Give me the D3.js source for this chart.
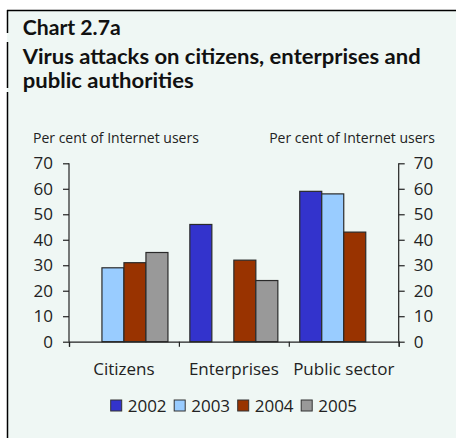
<!DOCTYPE html>
<html lang="en">
<head>
    <meta charset="UTF-8">
    <title>Chart 2.7a</title>
    <script src="https://d3js.org/d3.v7.min.js"></script>
    <style>
        body { margin: 0; background: #fff; }
        svg { display: block; font-family: "Open Sans", sans-serif; }
    </style>
</head>
<body>
<div id="chart"></div>
<script>
    // data
    const categories = ["Citizens", "Enterprises", "Public sector"];
    const years = ["2002", "2003", "2004", "2005"];
    const colors = ["#3333cc", "#99ccff", "#993300", "#999999"];
    // null = no bar
    const values2002 = [null, 46, 59];
    const values2003 = [29, null, 58];
    const values2004 = [31, 32, 43];
    const values2005 = [35, 24, null];
    const yTicks = [0, 10, 20, 30, 40, 50, 60, 70];

    const series = [values2002, values2003, values2004, values2005];

    const width = 456, height = 438;
    const plot = { left: 69, right: 398.7, top: 163.3, bottom: 341.7 };

    const svg = d3.select("#chart").append("svg")
        .attr("width", width)
        .attr("height", height);

    // panel background + frame
    svg.append("rect")
        .attr("x", 7).attr("y", 10.5)
        .attr("width", width - 7).attr("height", height - 10.5)
        .attr("fill", "#eff7f4");
    svg.append("line")
        .attr("x1", 7).attr("x2", width)
        .attr("y1", 10.5).attr("y2", 10.5)
        .attr("stroke", "#000").attr("stroke-width", 1.5);
    [[10, 33], [42, 88], [92, height]].forEach(s => {
        svg.append("line")
            .attr("x1", 7.5).attr("x2", 7.5)
            .attr("y1", s[0]).attr("y2", s[1])
            .attr("stroke", "#000").attr("stroke-width", 1.5);
    });

    // titles
    const titles = [
        { text: "Chart 2.7a", y: 35, w: 98 },
        { text: "Virus attacks on citizens, enterprises and", y: 64, w: 398 },
        { text: "public authorities", y: 88, w: 171 }
    ];
    svg.selectAll(".title")
        .data(titles)
        .enter().append("text")
        .attr("class", "title")
        .attr("x", 22.7)
        .attr("y", d => d.y)
        .attr("textLength", d => d.w)
        .attr("lengthAdjust", "spacingAndGlyphs")
        .style("font-family", "Lato, sans-serif")
        .style("font-size", "20px")
        .style("font-weight", "bold")
        .attr("fill", "#111")
        .text(d => d.text);

    // scales
    const x = d3.scaleBand()
        .domain(categories)
        .range([plot.left, plot.right]);
    const x1 = d3.scaleBand()
        .domain(years)
        .range([0, 88])
        .padding(0);
    const groupOffset = (x.bandwidth() - 88) / 2;
    const y = d3.scaleLinear()
        .domain([0, 70])
        .range([plot.bottom, plot.top]);

    // bars
    const bars = [];
    series.forEach((vals, si) => {
        vals.forEach((v, ci) => {
            if (v !== null) bars.push({ cat: categories[ci], year: years[si], value: v, color: colors[si] });
        });
    });
    svg.selectAll(".bar")
        .data(bars)
        .enter().append("rect")
        .attr("class", "bar")
        .attr("x", d => x(d.cat) + groupOffset + x1(d.year))
        .attr("y", d => y(d.value))
        .attr("width", x1.bandwidth())
        .attr("height", d => y(0) - y(d.value))
        .attr("fill", d => d.color)
        .attr("stroke", "#2a2a2a")
        .attr("stroke-width", 1.2);

    // axes
    const leftAxis = svg.append("g")
        .attr("transform", `translate(${plot.left},0)`)
        .call(d3.axisLeft(y).tickValues(yTicks).tickSize(6).tickPadding(10));
    const rightAxis = svg.append("g")
        .attr("transform", `translate(${plot.right},0)`)
        .call(d3.axisRight(y).tickValues(yTicks).tickSize(6).tickPadding(9));
    const bottomAxis = svg.append("g")
        .attr("transform", `translate(0,${plot.bottom})`)
        .call(d3.axisBottom(d3.scaleLinear().domain([0, 3]).range([plot.left, plot.right]))
            .tickValues([0, 1, 2, 3]).tickSize(5).tickFormat(""));

    [leftAxis, rightAxis, bottomAxis].forEach(g => {
        g.select(".domain").attr("stroke", "#222").attr("stroke-width", 1.2);
        g.selectAll(".tick line").attr("stroke", "#222").attr("stroke-width", 1.2);
        g.selectAll("text")
            .attr("fill", "#222")
            .style("font-size", "17px")
            .style("font-family", "'Open Sans', sans-serif");
    });
    leftAxis.select(".domain").attr("d", `M0,${plot.top}V${plot.bottom}`);
    rightAxis.select(".domain").attr("d", `M0,${plot.top}V${plot.bottom}`);

    // category labels
    svg.selectAll(".cat")
        .data(categories)
        .enter().append("text")
        .attr("class", "cat")
        .attr("x", d => x(d) + x.bandwidth() / 2)
        .attr("y", 375)
        .attr("text-anchor", "middle")
        .style("font-size", "17px")
        .attr("fill", "#222")
        .text(d => d);

    // axis titles
    svg.append("text")
        .attr("x", 33).attr("y", 142.7)
        .style("font-size", "14px").attr("fill", "#222")
        .text("Per cent of Internet users");
    svg.append("text")
        .attr("x", 435).attr("y", 142.7)
        .attr("text-anchor", "end")
        .style("font-size", "14px").attr("fill", "#222")
        .text("Per cent of Internet users");

    // legend
    const legend = svg.selectAll(".legend")
        .data(years)
        .enter().append("g")
        .attr("class", "legend")
        .attr("transform", (d, i) => `translate(${110.7 + i * 63.5},0)`);
    legend.append("rect")
        .attr("x", 0).attr("y", 400)
        .attr("width", 11).attr("height", 11)
        .attr("fill", (d, i) => colors[i])
        .attr("stroke", "#333");
    legend.append("text")
        .attr("x", 17).attr("y", 411.7)
        .style("font-size", "17px").attr("fill", "#222")
        .text(d => d);
</script>
</body>
</html>
